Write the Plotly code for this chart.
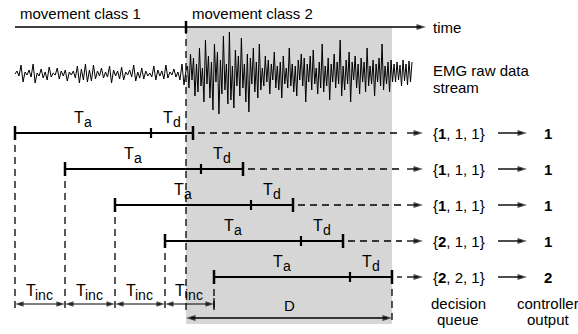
import numpy as np
import plotly.graph_objects as go

# ---------------- data (time units) ----------------
window_starts = [0, 50, 100, 150, 199]
T_a = 136
T_d = 42
onset = 171            # start of movement class 2
time_end = 411         # tip of time arrow
stream_end = 397       # end of EMG stream
decision_queues = [[1, 1, 1], [1, 1, 1], [1, 1, 1], [2, 1, 1], [2, 2, 1]]
controller_outputs = [1, 1, 1, 1, 2]
class_labels = ["movement class 1", "movement class 2"]

emg_class1 = [0, 3, -2, 9, -8, 2, -1, 4, -3, 10, -9, 1, -2, 5, -4, 2, -6, 7, -3, 1,
              -1, 6, -5, 3, -2, 4, -7, 2, -1, 3, -4, 8, -9, 5, -6, 10, -8, 4, -7, 9,
              -5, 3, -2, 6, -4, 2, -3, 8, -9, 4, -2, 3, -5, 7, -6, 2, -1, 4, -3, 9,
              -7, 2, -4, 6, -5, 3, -2, 1, -3, 8, -6, 4, -2, 3, -5, 9, -4, 2, -1, 5,
              -3, 2, -6, 10, -11, 4]
emg_class2 = [8, -14, 20, -6, 16, -22, 10, -18, 26, -12, 6, -28, 34, -10, 18, -24, 12,
              -36, 30, -8, 22, -40, 14, -20, 38, -16, 10, -30, 42, -26, 8, -34, 24, -12,
              18, -22, 36, -14, 10, -28, 20, -38, 16, -10, 26, -18, 12, -24, 30, -16,
              6, -12, 18, -8, 14, -20, 10, -6, 22, -14, 8, -16, 12, -24, 18, -10, 6, -14,
              26, -12, 10, -18, 8, -22, 14, -6, 20, -12, 16, -28, 10, -8, 18, -16, 24,
              -10, 6, -20, 12, -14, 30, -18, 8, -12, 16, -26, 10, -8, 20, -14, 12, -10,
              34, -22, 8, -16, 14, -10, 22, -28, 12, -6, 18, -14, 10, -20, 16, -8, 12,
              -18, 26, -12, 8, -10, 14, -22, 10, -8, 16, -12, 30, -16, 8, -10, 12, -18,
              14, -8,
              10, -8, 12, -6, 9, -12, 14, -7, 10, -11, 13, -8, 12]

# ---------------- layout constants ----------------
FONT = "Liberation Sans, Arial, Helvetica, sans-serif"
FS = 15
Y_TIME = 27
Y_EMG = 74
ROW_Y0 = 133
ROW_DY = 36
Y_TINC = 304
Y_D = 318
Y_VBOTTOM = 310
X_ARROW_TIP = 408
X_QUEUE = 418
X_OUT_ARROW = (483, 512)
X_OUT = 533
DASH = "7px,5px"
T_SIZE = 16
SUB_SIZE = 14
GLYPH_W = {"T": 0.611, "a": 0.556, "d": 0.556, "i": 0.222, "n": 0.556, "c": 0.5}

fig = go.Figure()
shapes = []
ann = []
heads_x, heads_y, heads_angle, heads_size = [], [], [], []

def text(x, y, s, xanchor="center", size=FS, yanchor="middle"):
    ann.append(dict(x=x, y=y, text=s, showarrow=False, xanchor=xanchor, yanchor=yanchor,
                    borderpad=0, borderwidth=0,
                    font=dict(family=FONT, size=size, color="black")))

def sublabel(cx, y, main, sub):
    wm = sum(GLYPH_W[c] for c in main) * T_SIZE
    ws = sum(GLYPH_W[c] for c in sub) * SUB_SIZE
    j = cx - (wm + ws) / 2 + wm
    text(j, y - 2, main, xanchor="right", size=T_SIZE)
    text(j - 0.5, y + 3, sub, xanchor="left", size=SUB_SIZE)

def line(x0, y0, x1, y1, width=1.3, dash="solid"):
    shapes.append(dict(type="line", x0=x0, y0=y0, x1=x1, y1=y1, xref="x", yref="y",
                       line=dict(color="black", width=width, dash=dash)))

def head(x, y, direction, size=10):
    heads_x.append(x)
    heads_y.append(y)
    heads_angle.append(90 if direction > 0 else -90)
    heads_size.append(size)

def arrow(x0, y, x1, width=1.4, both=False, size=10):
    inset = size * 0.5
    a = x0 + (inset if both else 0)
    line(a, y, x1 - inset, y, width=width)
    head(x1, y, 1, size)
    if both:
        head(x0, y, -1, size)

last_end = window_starts[-1] + T_a + T_d

# shaded movement class 2 region
shapes.append(dict(type="rect", x0=onset, x1=last_end, y0=Y_TIME, y1=324, xref="x", yref="y",
                   fillcolor="#d6d6d6", line=dict(width=0), layer="below"))

# EMG stream
x1 = np.linspace(0, onset, len(emg_class1))
x2 = np.linspace(onset, stream_end, len(emg_class2) + 1)[1:]
xs = np.concatenate([x1, x2])
ys = Y_EMG - np.array(emg_class1 + emg_class2, dtype=float)
fig.add_trace(go.Scatter(x=xs, y=ys, mode="lines", line=dict(color="black", width=1),
                         hoverinfo="skip", showlegend=False))

# time axis
arrow(0, Y_TIME, time_end, width=1.4)
line(onset, Y_TIME - 6, onset, Y_TIME + 6, width=2.5)
text(time_end + 7, Y_TIME, "time", xanchor="left")
text(5, 13, class_labels[0], xanchor="left")
text(177, 13, class_labels[1], xanchor="left")
line(onset, Y_TIME, onset, Y_VBOTTOM, width=1.3, dash=DASH)

text(418, 70, "EMG raw data", xanchor="left")
text(418, 87, "stream", xanchor="left")

# analysis windows
for i, s in enumerate(window_starts):
    y = ROW_Y0 + ROW_DY * i
    mid = s + T_a
    end = mid + T_d
    line(s, y, end, y, width=2.2)
    line(s, y - 7, s, y + 7, width=2.5)
    line(mid, y - 5, mid, y + 5, width=2.2)
    line(end, y - 7, end, y + 7, width=2.5)
    sublabel(s + T_a / 2, y - 14, "T", "a")
    sublabel(mid + T_d / 2, y - 14, "T", "d")
    line(s, y, s, Y_VBOTTOM, width=1.3, dash=DASH)
    line(end + 5, y, X_ARROW_TIP - 21, y, width=1.3, dash=DASH)
    arrow(X_ARROW_TIP - 16, y, X_ARROW_TIP, width=1.3)
    q = decision_queues[i]
    qs = "{<b>%d</b>, %s}" % (q[0], ", ".join(str(v) for v in q[1:]))
    text(X_QUEUE, y, qs, xanchor="left")
    arrow(X_OUT_ARROW[0], y, X_OUT_ARROW[1], width=1.4)
    text(X_OUT, y, "<b>%d</b>" % controller_outputs[i])

line(last_end, ROW_Y0 + ROW_DY * 4, last_end, 322, width=1.3, dash=DASH)

# T_inc arrows
for a, b in zip(window_starts[:-1], window_starts[1:]):
    arrow(a, Y_TINC, b, width=1.1, both=True, size=9)
    sublabel((a + b) / 2, Y_TINC - 12, "T", "inc")
line(window_starts[-1], Y_TINC - 6, window_starts[-1], Y_VBOTTOM, width=1.3)

# D arrow
arrow(onset, Y_D, last_end, width=1.3, both=True, size=10)
text((onset + last_end) / 2, Y_D - 13, "D")

text(443, 303, "decision")
text(443, 319, "queue")
text(533, 303, "controller")
text(533, 319, "output")

fig.add_trace(go.Scatter(x=heads_x, y=heads_y, mode="markers", hoverinfo="skip",
                         showlegend=False,
                         marker=dict(symbol="arrow", angle=heads_angle, size=heads_size,
                                     color="black", line=dict(width=0))))

fig.update_layout(
    width=578, height=334, margin=dict(l=0, r=0, t=0, b=0),
    paper_bgcolor="white", plot_bgcolor="white",
    xaxis=dict(range=[-15, 563], visible=False, fixedrange=True),
    yaxis=dict(range=[334, 0], visible=False, fixedrange=True),
    shapes=shapes, annotations=ann, showlegend=False,
)
fig.write_html("out.html", config={"displayModeBar": False},
               post_script="document.body.style.margin='0';document.body.style.overflow='hidden';")
